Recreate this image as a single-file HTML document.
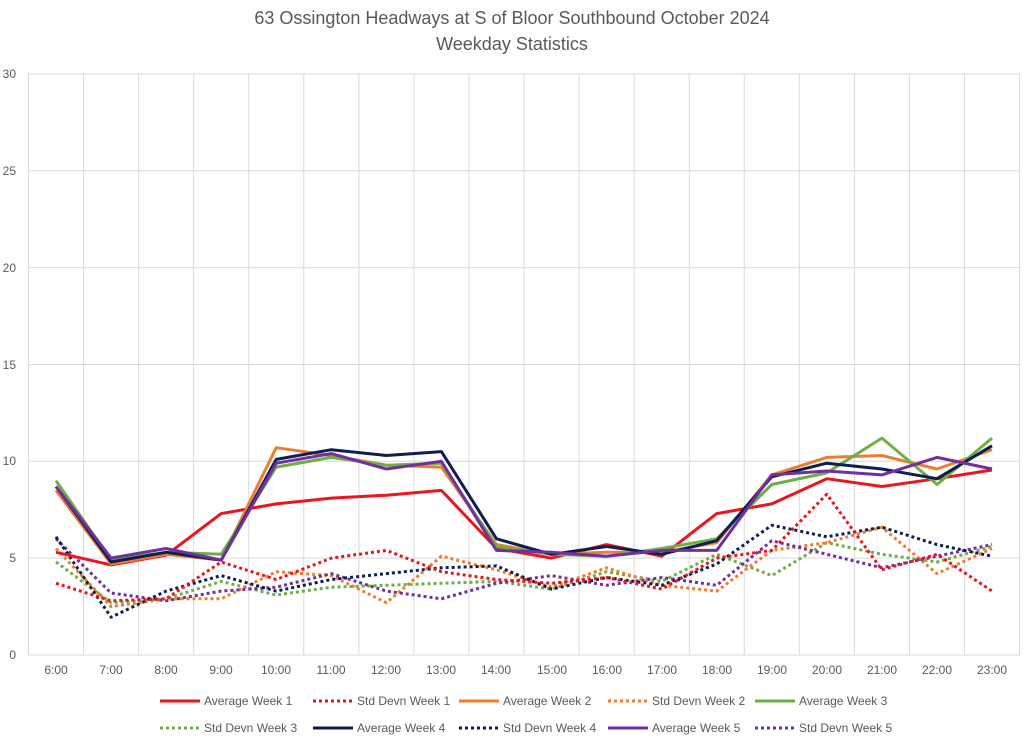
<!DOCTYPE html>
<html><head><meta charset="utf-8"><style>
body{margin:0;background:#fff;}
svg text{font-family:"Liberation Sans",sans-serif;}
</style></head><body>
<svg id="c" width="1024" height="740" xmlns="http://www.w3.org/2000/svg">
<rect width="1024" height="740" fill="#fff"/>
<text x="512" y="24" text-anchor="middle" font-size="18" fill="#595959">63 Ossington Headways at S of Bloor Southbound October 2024</text>
<text x="512" y="50" text-anchor="middle" font-size="18" fill="#595959">Weekday Statistics</text>
<g id="grid" stroke="#d9d9d9" stroke-width="1"></g>
<g id="labels" font-size="12" fill="#595959">
<text x="16" y="659" text-anchor="end">0</text>
<text x="16" y="562" text-anchor="end">5</text>
<text x="16" y="465" text-anchor="end">10</text>
<text x="16" y="369" text-anchor="end">15</text>
<text x="16" y="272" text-anchor="end">20</text>
<text x="16" y="175" text-anchor="end">25</text>
<text x="16" y="78" text-anchor="end">30</text>
<text x="56" y="674" text-anchor="middle">6:00</text>
<text x="111" y="674" text-anchor="middle">7:00</text>
<text x="166" y="674" text-anchor="middle">8:00</text>
<text x="221" y="674" text-anchor="middle">9:00</text>
<text x="276" y="674" text-anchor="middle">10:00</text>
<text x="331" y="674" text-anchor="middle">11:00</text>
<text x="386" y="674" text-anchor="middle">12:00</text>
<text x="441" y="674" text-anchor="middle">13:00</text>
<text x="496" y="674" text-anchor="middle">14:00</text>
<text x="552" y="674" text-anchor="middle">15:00</text>
<text x="607" y="674" text-anchor="middle">16:00</text>
<text x="662" y="674" text-anchor="middle">17:00</text>
<text x="717" y="674" text-anchor="middle">18:00</text>
<text x="772" y="674" text-anchor="middle">19:00</text>
<text x="827" y="674" text-anchor="middle">20:00</text>
<text x="882" y="674" text-anchor="middle">21:00</text>
<text x="937" y="674" text-anchor="middle">22:00</text>
<text x="992" y="674" text-anchor="middle">23:00</text>
</g>
<g id="series" fill="none" stroke-width="3" stroke-linejoin="round"></g>
<g font-size="12" fill="#595959">
<line x1="160" y1="701" x2="200" y2="701" stroke="#e8171e" stroke-width="3"/><text x="204" y="705">Average Week 1</text>
<line x1="313" y1="701" x2="353" y2="701" stroke="#e8171e" stroke-width="3" stroke-dasharray="3,3"/><text x="357" y="705">Std Devn Week 1</text>
<line x1="459" y1="701" x2="499" y2="701" stroke="#ed7d31" stroke-width="3"/><text x="503" y="705">Average Week 2</text>
<line x1="608" y1="701" x2="648" y2="701" stroke="#ed7d31" stroke-width="3" stroke-dasharray="3,3"/><text x="652" y="705">Std Devn Week 2</text>
<line x1="755" y1="701" x2="795" y2="701" stroke="#70ad47" stroke-width="3"/><text x="799" y="705">Average Week 3</text>
<line x1="160" y1="728" x2="200" y2="728" stroke="#70ad47" stroke-width="3" stroke-dasharray="3,3"/><text x="204" y="732">Std Devn Week 3</text>
<line x1="313" y1="728" x2="353" y2="728" stroke="#0d1f4f" stroke-width="3"/><text x="357" y="732">Average Week 4</text>
<line x1="459" y1="728" x2="499" y2="728" stroke="#0d1f4f" stroke-width="3" stroke-dasharray="3,3"/><text x="503" y="732">Std Devn Week 4</text>
<line x1="608" y1="728" x2="648" y2="728" stroke="#7030a0" stroke-width="3"/><text x="652" y="732">Average Week 5</text>
<line x1="755" y1="728" x2="795" y2="728" stroke="#7030a0" stroke-width="3" stroke-dasharray="3,3"/><text x="799" y="732">Std Devn Week 5</text>
</g>
</svg>
<script>
var NS="http://www.w3.org/2000/svg";
function Y(v){return 655-v*19.37;}
function X(i){return 56+i*55.06;}
var g=document.getElementById("grid");
for(var k=0;k<=6;k++){var l=document.createElementNS(NS,"line");l.setAttribute("x1",28);l.setAttribute("x2",1020);l.setAttribute("y1",Y(k*5));l.setAttribute("y2",Y(k*5));g.appendChild(l);}
for(var i=0;i<=18;i++){var x=28.5+i*55.06;var l=document.createElementNS(NS,"line");l.setAttribute("x1",x);l.setAttribute("x2",x);l.setAttribute("y1",74);l.setAttribute("y2",655);g.appendChild(l);}
var S=[
["#70ad47",1,[4.8,2.7,2.9,3.8,3.1,3.5,3.6,3.7,3.8,3.4,4.3,3.8,5.2,4.1,5.8,5.2,4.8,5.6]],
["#ed7d31",1,[5.5,2.5,2.9,2.9,4.3,4.1,2.7,5.1,4.4,3.5,4.5,3.6,3.3,5.4,5.8,6.6,4.2,5.5]],
["#7030a0",1,[6.0,3.2,2.8,3.3,3.5,4.2,3.3,2.9,3.7,4.1,3.6,4.0,3.6,5.9,5.2,4.5,5.1,5.7]],
["#0d1f4f",1,[6.1,1.95,3.3,4.1,3.3,3.9,4.2,4.5,4.6,3.4,4.0,3.6,4.7,6.7,6.1,6.6,5.7,5.1]],
["#e8171e",1,[3.7,2.8,2.9,4.8,3.9,5.0,5.4,4.3,3.9,3.7,4.0,3.4,5.0,5.4,8.3,4.4,5.2,3.3]],
["#e8171e",0,[5.3,4.65,5.15,7.3,7.8,8.1,8.25,8.5,5.5,5.0,5.7,5.1,7.3,7.8,9.1,8.7,9.1,9.55]],
["#ed7d31",0,[8.5,4.7,5.2,4.9,10.7,10.3,9.8,9.7,5.7,5.2,5.3,5.3,5.8,9.3,10.2,10.3,9.6,10.6]],
["#70ad47",0,[9.0,4.9,5.3,5.2,9.7,10.2,9.8,9.9,5.6,5.2,5.1,5.5,6.0,8.8,9.4,11.2,8.8,11.2]],
["#0d1f4f",0,[8.7,4.8,5.3,4.9,10.1,10.6,10.3,10.5,6.0,5.2,5.6,5.2,5.9,9.2,9.9,9.6,9.1,10.8]],
["#7030a0",0,[8.7,5.0,5.5,4.9,9.9,10.4,9.6,10.0,5.4,5.3,5.1,5.4,5.4,9.3,9.5,9.3,10.2,9.6]]
];
var sg=document.getElementById("series");
S.forEach(function(s){var p=document.createElementNS(NS,"polyline");
p.setAttribute("points",s[2].map(function(v,i){return X(i).toFixed(1)+","+Y(v).toFixed(1);}).join(" "));
p.setAttribute("stroke",s[0]);if(s[1]){p.setAttribute("stroke-dasharray","3,3");}
sg.appendChild(p);});
</script>
</body></html>
